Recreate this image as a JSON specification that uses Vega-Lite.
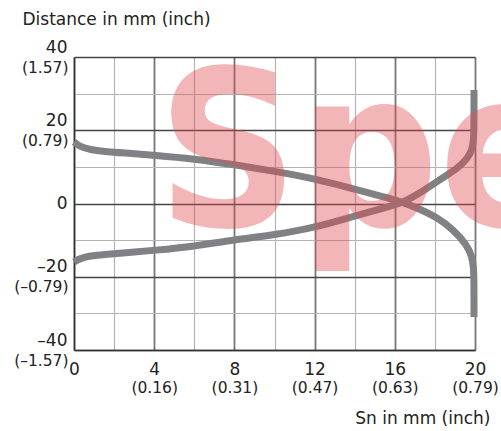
{
  "$schema": "https://vega.github.io/schema/vega-lite/v6.json",
  "width": 401,
  "height": 293,
  "autosize": {"type": "none"},
  "padding": {"left": 74, "top": 57, "right": 26, "bottom": 81},
  "config": {"view": {"stroke": null}, "font": "DejaVu Sans"},
  "datasets": {
    "curves": [
      {"series": "A", "i": 0, "x": 0, "y": 16.8},
      {"series": "A", "i": 1, "x": 0.3, "y": 15.5},
      {"series": "A", "i": 2, "x": 0.8, "y": 14.7},
      {"series": "A", "i": 3, "x": 1.5, "y": 14.2},
      {"series": "A", "i": 4, "x": 2.5, "y": 13.8},
      {"series": "A", "i": 5, "x": 4, "y": 13.2},
      {"series": "A", "i": 6, "x": 6, "y": 12.2},
      {"series": "A", "i": 7, "x": 8, "y": 10.6},
      {"series": "A", "i": 8, "x": 10, "y": 8.8},
      {"series": "A", "i": 9, "x": 12, "y": 6.8},
      {"series": "A", "i": 10, "x": 14, "y": 3.9},
      {"series": "A", "i": 11, "x": 15.4, "y": 1.9},
      {"series": "A", "i": 12, "x": 16.45, "y": 0.3},
      {"series": "A", "i": 13, "x": 17.3, "y": -1.7},
      {"series": "A", "i": 14, "x": 18.1, "y": -3.8},
      {"series": "A", "i": 15, "x": 18.9, "y": -7.0},
      {"series": "A", "i": 16, "x": 19.6, "y": -11.3},
      {"series": "A", "i": 17, "x": 19.85, "y": -14.5},
      {"series": "A", "i": 18, "x": 19.93, "y": -17.5},
      {"series": "A", "i": 19, "x": 19.95, "y": -21},
      {"series": "A", "i": 20, "x": 19.95, "y": -31},
      {"series": "B", "i": 0, "x": 0, "y": -16.0},
      {"series": "B", "i": 1, "x": 0.3, "y": -15.0},
      {"series": "B", "i": 2, "x": 0.8, "y": -14.3},
      {"series": "B", "i": 3, "x": 1.5, "y": -13.9},
      {"series": "B", "i": 4, "x": 2.5, "y": -13.5},
      {"series": "B", "i": 5, "x": 4, "y": -12.8},
      {"series": "B", "i": 6, "x": 6, "y": -11.7},
      {"series": "B", "i": 7, "x": 8, "y": -9.9},
      {"series": "B", "i": 8, "x": 10, "y": -8.6},
      {"series": "B", "i": 9, "x": 12, "y": -6.6},
      {"series": "B", "i": 10, "x": 14, "y": -3.4},
      {"series": "B", "i": 11, "x": 15.4, "y": -1.3},
      {"series": "B", "i": 12, "x": 16.45, "y": 0.3},
      {"series": "B", "i": 13, "x": 17.3, "y": 3.0},
      {"series": "B", "i": 14, "x": 18.1, "y": 6},
      {"series": "B", "i": 15, "x": 19.25, "y": 10},
      {"series": "B", "i": 16, "x": 19.65, "y": 12.6},
      {"series": "B", "i": 17, "x": 19.85, "y": 14.6},
      {"series": "B", "i": 18, "x": 19.93, "y": 17.3},
      {"series": "B", "i": 19, "x": 19.95, "y": 21},
      {"series": "B", "i": 20, "x": 19.95, "y": 31}
    ],
    "watermark": [
      {"label": "Specimen", "x": 4.15, "y": -6.2}
    ]
  },
  "layer": [
    {
      "data": {"name": "curves"},
      "mark": {"type": "line", "strokeWidth": 7, "color": "#808184", "strokeCap": "butt", "interpolate": "basis"},
      "encoding": {
        "x": {
          "field": "x", "type": "quantitative",
          "scale": {"domain": [0, 20], "nice": false},
          "axis": {
            "values": [0, 2, 4, 6, 8, 10, 12, 14, 16, 18, 20],
            "labelExpr": "datum.value % 4 == 0 ? datum.label : ''",
            "grid": true,
            "gridColor": {"condition": {"test": "datum.value % 4 == 0", "value": "#767676"}, "value": "#b4b4b4"},
            "gridWidth": {"condition": {"test": "datum.value % 4 == 0", "value": 1.8}, "value": 1.2},
            "ticks": false, "tickSize": 0,
            "domainColor": "#333333", "domainWidth": 1.5,
            "labelFontSize": 17, "labelColor": "#222222",
            "labelBaseline": "middle", "labelPadding": 19,
            "labelFlush": false, "labelOverlap": false,
            "title": "Sn in mm (inch)",
            "titleFontSize": 17, "titleFontWeight": "normal", "titleColor": "#222222",
            "titleAlign": "right", "titleBaseline": "middle",
            "titleX": 416, "titleY": 68
          }
        },
        "y": {
          "field": "y", "type": "quantitative",
          "scale": {"domain": [-40, 40], "nice": false},
          "axis": {
            "values": [-40, -30, -20, -10, 0, 10, 20, 30, 40],
            "labelExpr": "datum.value == 0 ? '0' : datum.value == 20 ? '20' : datum.value == 40 ? '40' : datum.value == -20 ? '–20' : datum.value == -40 ? '–40' : ''",
            "grid": true,
            "gridColor": {"condition": {"test": "datum.value % 20 == 0", "value": "#444444"}, "value": "#b4b4b4"},
            "gridWidth": {"condition": {"test": "datum.value % 20 == 0", "value": 1.5}, "value": 1.2},
            "ticks": false, "tickSize": 0,
            "domainColor": "#333333", "domainWidth": 1.5,
            "labelFontSize": 17, "labelColor": "#222222",
            "labelPadding": 7,
            "labelOffset": {"condition": {"test": "datum.value == 0", "value": 0}, "value": -10},
            "labelOverlap": false,
            "title": "Distance in mm (inch)",
            "titleFontSize": 17, "titleFontWeight": "normal", "titleColor": "#222222",
            "titleAngle": 0, "titleAlign": "left", "titleBaseline": "middle",
            "titleX": -52, "titleY": -38
          }
        },
        "detail": {"field": "series"},
        "order": {"field": "i", "type": "quantitative"}
      }
    },
    {
      "data": {"name": "watermark"},
      "mark": {"type": "text", "font": "DejaVu Sans Condensed, Liberation Sans", "fontWeight": "bold", "fontSize": 218, "align": "left", "baseline": "alphabetic", "color": "#e04850", "opacity": 0.4},
      "encoding": {
        "x": {
          "field": "x", "type": "quantitative",
          "axis": {
            "orient": "bottom",
            "values": [4, 8, 12, 16, 20],
            "labelExpr": "datum.value == 4 ? '(0.16)' : datum.value == 8 ? '(0.31)' : datum.value == 12 ? '(0.47)' : datum.value == 16 ? '(0.63)' : '(0.79)'",
            "grid": false, "domain": false, "ticks": false, "tickSize": 0,
            "labelFontSize": 15.5, "labelColor": "#222222",
            "labelBaseline": "middle", "labelPadding": 37,
            "labelFlush": false, "labelOverlap": false,
            "title": null
          }
        },
        "y": {
          "field": "y", "type": "quantitative",
          "axis": {
            "orient": "left",
            "values": [-40, -20, 20, 40],
            "labelExpr": "datum.value == 40 ? '(1.57)' : datum.value == 20 ? '(0.79)' : datum.value == -20 ? '(–0.79)' : '(–1.57)'",
            "grid": false, "domain": false, "ticks": false, "tickSize": 0,
            "labelFontSize": 15.5, "labelColor": "#222222",
            "labelPadding": 6, "labelOffset": 10,
            "labelOverlap": false,
            "title": null
          }
        },
        "text": {"field": "label"}
      }
    }
  ],
  "resolve": {"axis": {"x": "independent", "y": "independent"}}
}
